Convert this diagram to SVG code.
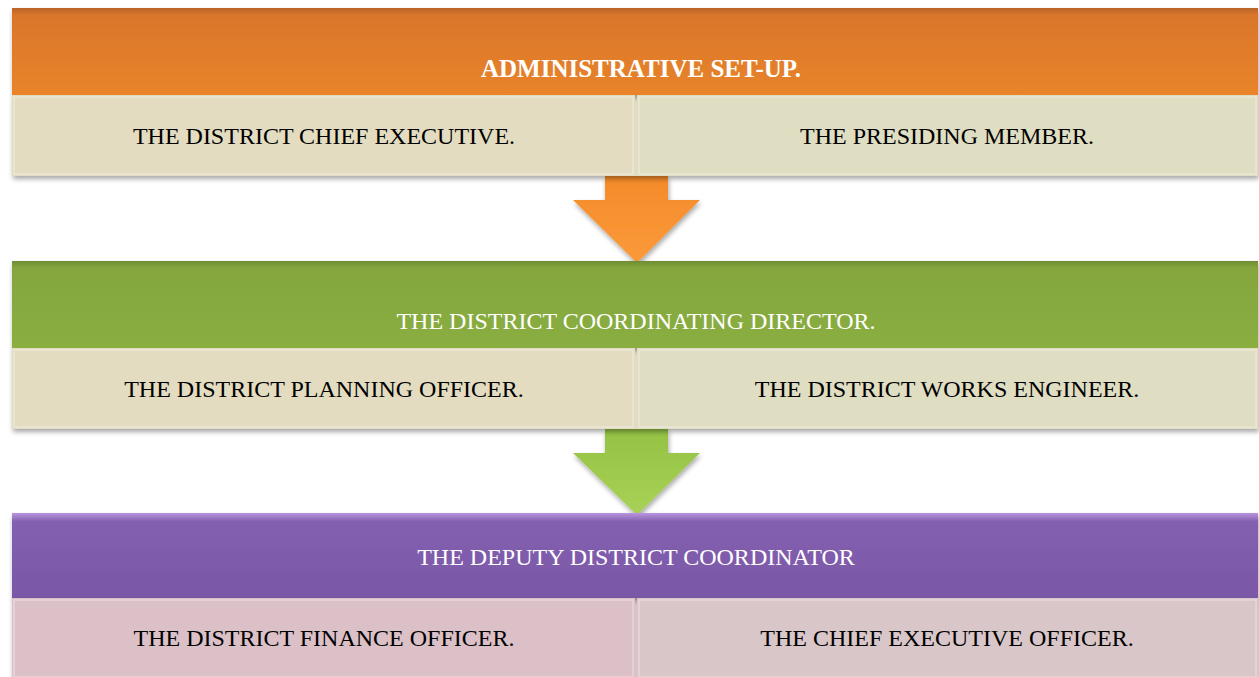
<svg xmlns="http://www.w3.org/2000/svg" width="1259" height="677" viewBox="0 0 1259 677">
<style>
.hd{font-family:"Liberation Serif","Times New Roman",serif;font-size:24px;fill:#ffffff;text-anchor:middle}
.hdb{font-size:25px;font-weight:bold}
.cell{font-family:"Liberation Serif","Times New Roman",serif;font-size:24px;fill:#000000;text-anchor:middle}
.edge{fill:none;stroke:#ffffff;stroke-opacity:0.25;stroke-width:2}
</style>
<defs>
<filter id="sh" x="-5%" y="-20%" width="110%" height="150%">
<feGaussianBlur in="SourceAlpha" stdDeviation="2.5"/>
<feOffset dx="1" dy="3" result="b"/>
<feComponentTransfer><feFuncA type="linear" slope="0.35"/></feComponentTransfer>
<feMerge><feMergeNode/><feMergeNode in="SourceGraphic"/></feMerge>
</filter>
<linearGradient id="gOr" x1="0" y1="0" x2="0" y2="1">
<stop offset="0" stop-color="#b8632a"/><stop offset="0.08" stop-color="#d9762a"/><stop offset="1" stop-color="#e9842a"/>
</linearGradient>
<linearGradient id="gGr" x1="0" y1="0" x2="0" y2="1">
<stop offset="0" stop-color="#6f8c34"/><stop offset="0.08" stop-color="#84a63e"/><stop offset="1" stop-color="#8aae40"/>
</linearGradient>
<linearGradient id="gPu" x1="0" y1="0" x2="0" y2="1">
<stop offset="0" stop-color="#b995e0"/><stop offset="0.1" stop-color="#8460b0"/><stop offset="1" stop-color="#7a57a6"/>
</linearGradient>
<linearGradient id="aOr" x1="0" y1="0" x2="0" y2="1">
<stop offset="0" stop-color="#f48b2a"/><stop offset="1" stop-color="#fb9a3a"/>
</linearGradient>
<linearGradient id="aGr" x1="0" y1="0" x2="0" y2="1">
<stop offset="0" stop-color="#94c244"/><stop offset="1" stop-color="#a8d256"/>
</linearGradient>
</defs>

<g id="connectors">
<path d="M605,176 H668 V200 H700 L637,263 L573,200 H605 Z" fill="url(#aOr)" filter="url(#sh)"/>
<path d="M605,429 H668 V453 H700 L637,515 L573,453 H605 Z" fill="url(#aGr)" filter="url(#sh)"/>
</g>

<g id="admin-setup">
<rect x="12" y="95" width="1246" height="81" fill="#e2dcc0" filter="url(#sh)"/>
<rect x="12" y="8" width="1246" height="87" fill="url(#gOr)" filter="url(#sh)"/>
<text class="hd hdb" x="641" y="77">ADMINISTRATIVE SET-UP.</text>
</g>
<g id="dce">
<rect x="12" y="95" width="623" height="81" fill="#e3dcc1"/>
<rect x="14" y="97" width="619" height="77" class="edge"/>
<text class="cell" x="324" y="144">THE DISTRICT CHIEF EXECUTIVE.</text>
</g>
<g id="pm">
<rect x="637" y="95" width="621" height="81" fill="#dfddc2"/>
<rect x="639" y="97" width="617" height="77" class="edge"/>
<text class="cell" x="947" y="144">THE PRESIDING MEMBER.</text>
</g>

<g id="coord-director">
<rect x="12" y="348" width="1246" height="81" fill="#e2dcc0" filter="url(#sh)"/>
<rect x="12" y="261" width="1246" height="87" fill="url(#gGr)" filter="url(#sh)"/>
<text class="hd" x="636" y="329">THE DISTRICT COORDINATING DIRECTOR.</text>
</g>
<g id="dpo">
<rect x="12" y="348" width="623" height="81" fill="#e3dcc1"/>
<rect x="14" y="350" width="619" height="77" class="edge"/>
<text class="cell" x="324" y="397">THE DISTRICT PLANNING OFFICER.</text>
</g>
<g id="dwe">
<rect x="637" y="348" width="621" height="81" fill="#dfddc2"/>
<rect x="639" y="350" width="617" height="77" class="edge"/>
<text class="cell" x="947" y="397">THE DISTRICT WORKS ENGINEER.</text>
</g>

<g id="deputy-coord">
<rect x="12" y="597" width="1246" height="82" fill="#dbc2c8" filter="url(#sh)"/>
<rect x="12" y="513" width="1246" height="85" fill="url(#gPu)" filter="url(#sh)"/>
<text class="hd" x="636" y="565">THE DEPUTY DISTRICT COORDINATOR</text>
</g>
<g id="dfo">
<rect x="12" y="598" width="623" height="81" fill="#dbc1c7"/>
<rect x="14" y="600" width="619" height="77" class="edge"/>
<text class="cell" x="324" y="646">THE DISTRICT FINANCE OFFICER.</text>
</g>
<g id="ceo">
<rect x="637" y="598" width="621" height="81" fill="#d9c6c8"/>
<rect x="639" y="600" width="617" height="77" class="edge"/>
<text class="cell" x="947" y="646">THE CHIEF EXECUTIVE OFFICER.</text>
</g>
</svg>
